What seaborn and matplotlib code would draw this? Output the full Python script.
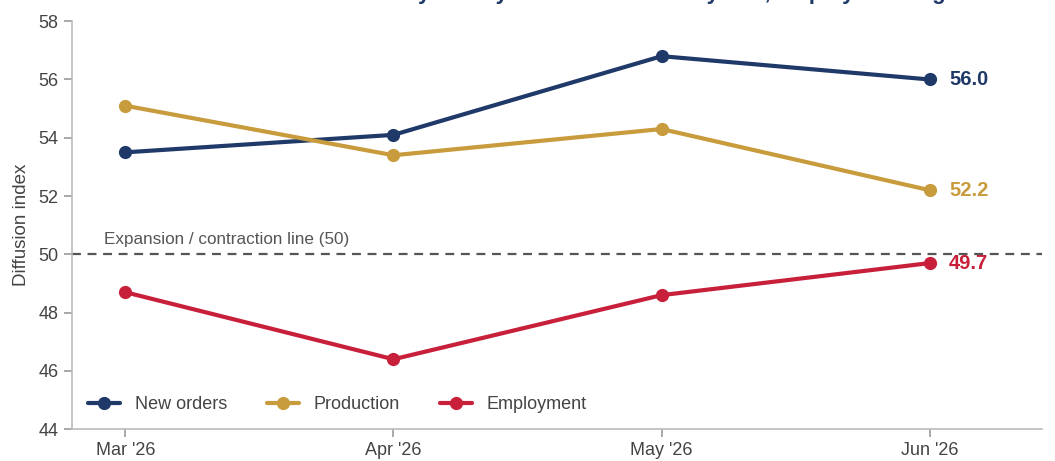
import matplotlib
matplotlib.use("Agg")
import matplotlib.pyplot as plt
import seaborn as sns
import pandas as pd

months = ["Mar '26", "Apr '26", "May '26", "Jun '26"]
new_orders = [53.5, 54.1, 56.8, 56.0]
production = [55.1, 53.4, 54.3, 52.2]
employment = [48.7, 46.4, 48.6, 49.7]
series_names = ["New orders", "Production", "Employment"]
colors = {"New orders": "#1f3a68", "Production": "#c89b3c", "Employment": "#c8203a"}
title = "Factory survey: orders and activity rise, employment lags"

sns.set_style("white")
plt.rcParams["font.family"] = ["Liberation Sans", "DejaVu Sans"]

rows = []
for name, vals in zip(series_names, [new_orders, production, employment]):
    for i, (m, v) in enumerate(zip(months, vals)):
        rows.append({"pos": i, "month": m, "value": v, "series": name})
df = pd.DataFrame(rows)

fig = plt.figure(figsize=(10.55, 4.61), dpi=100)
ax = fig.add_axes([0.068, 0.069, 0.920, 0.885])

sns.lineplot(data=df, x="pos", y="value", hue="series", palette=colors,
             marker="o", markersize=9.5, markeredgewidth=0, linewidth=3,
             ax=ax)

ax.axhline(50, color="#555555", linestyle=(0, (4, 3)), linewidth=1.6, zorder=1)
ax.text(-0.08, 50.25, "Expansion / contraction line (50)", fontsize=12.3,
        color="#555555", ha="left", va="bottom")

for name, vals in zip(series_names, [new_orders, production, employment]):
    ax.annotate(f"{vals[-1]:.1f}", (3, vals[-1]), xytext=(14, 0),
                textcoords="offset points", color=colors[name],
                fontsize=14.5, fontweight="bold", va="center", ha="left")

ax.set_xlim(-0.2, 3.42)
ax.set_ylim(44, 58)
ax.set_yticks(range(44, 59, 2))
ax.set_xticks(range(len(months)))
ax.set_xticklabels(months)
ax.set_xlabel("")
ax.set_ylabel("Diffusion index", fontsize=13.5, color="#444444", labelpad=6)
ax.tick_params(axis="both", labelsize=13, colors="#999999", labelcolor="#444444",
               length=6, width=1.2, direction="out", bottom=True, left=True)
for s in ["top", "right"]:
    ax.spines[s].set_visible(False)
for s in ["left", "bottom"]:
    ax.spines[s].set_color("#bbbbbb")
    ax.spines[s].set_linewidth(1.2)

leg = ax.legend(loc="lower left", ncol=3, frameon=False, fontsize=13,
                handlelength=1.8, handletextpad=0.8, columnspacing=2.2,
                borderaxespad=0.5)
for t in leg.get_texts():
    t.set_color("#444444")

fig.text(0.62, 1.0 + 1.0 / 461, title, ha="center", va="baseline",
         fontsize=16, fontweight="bold", color="#1f3a68")

fig.savefig("out.png", dpi=100)
